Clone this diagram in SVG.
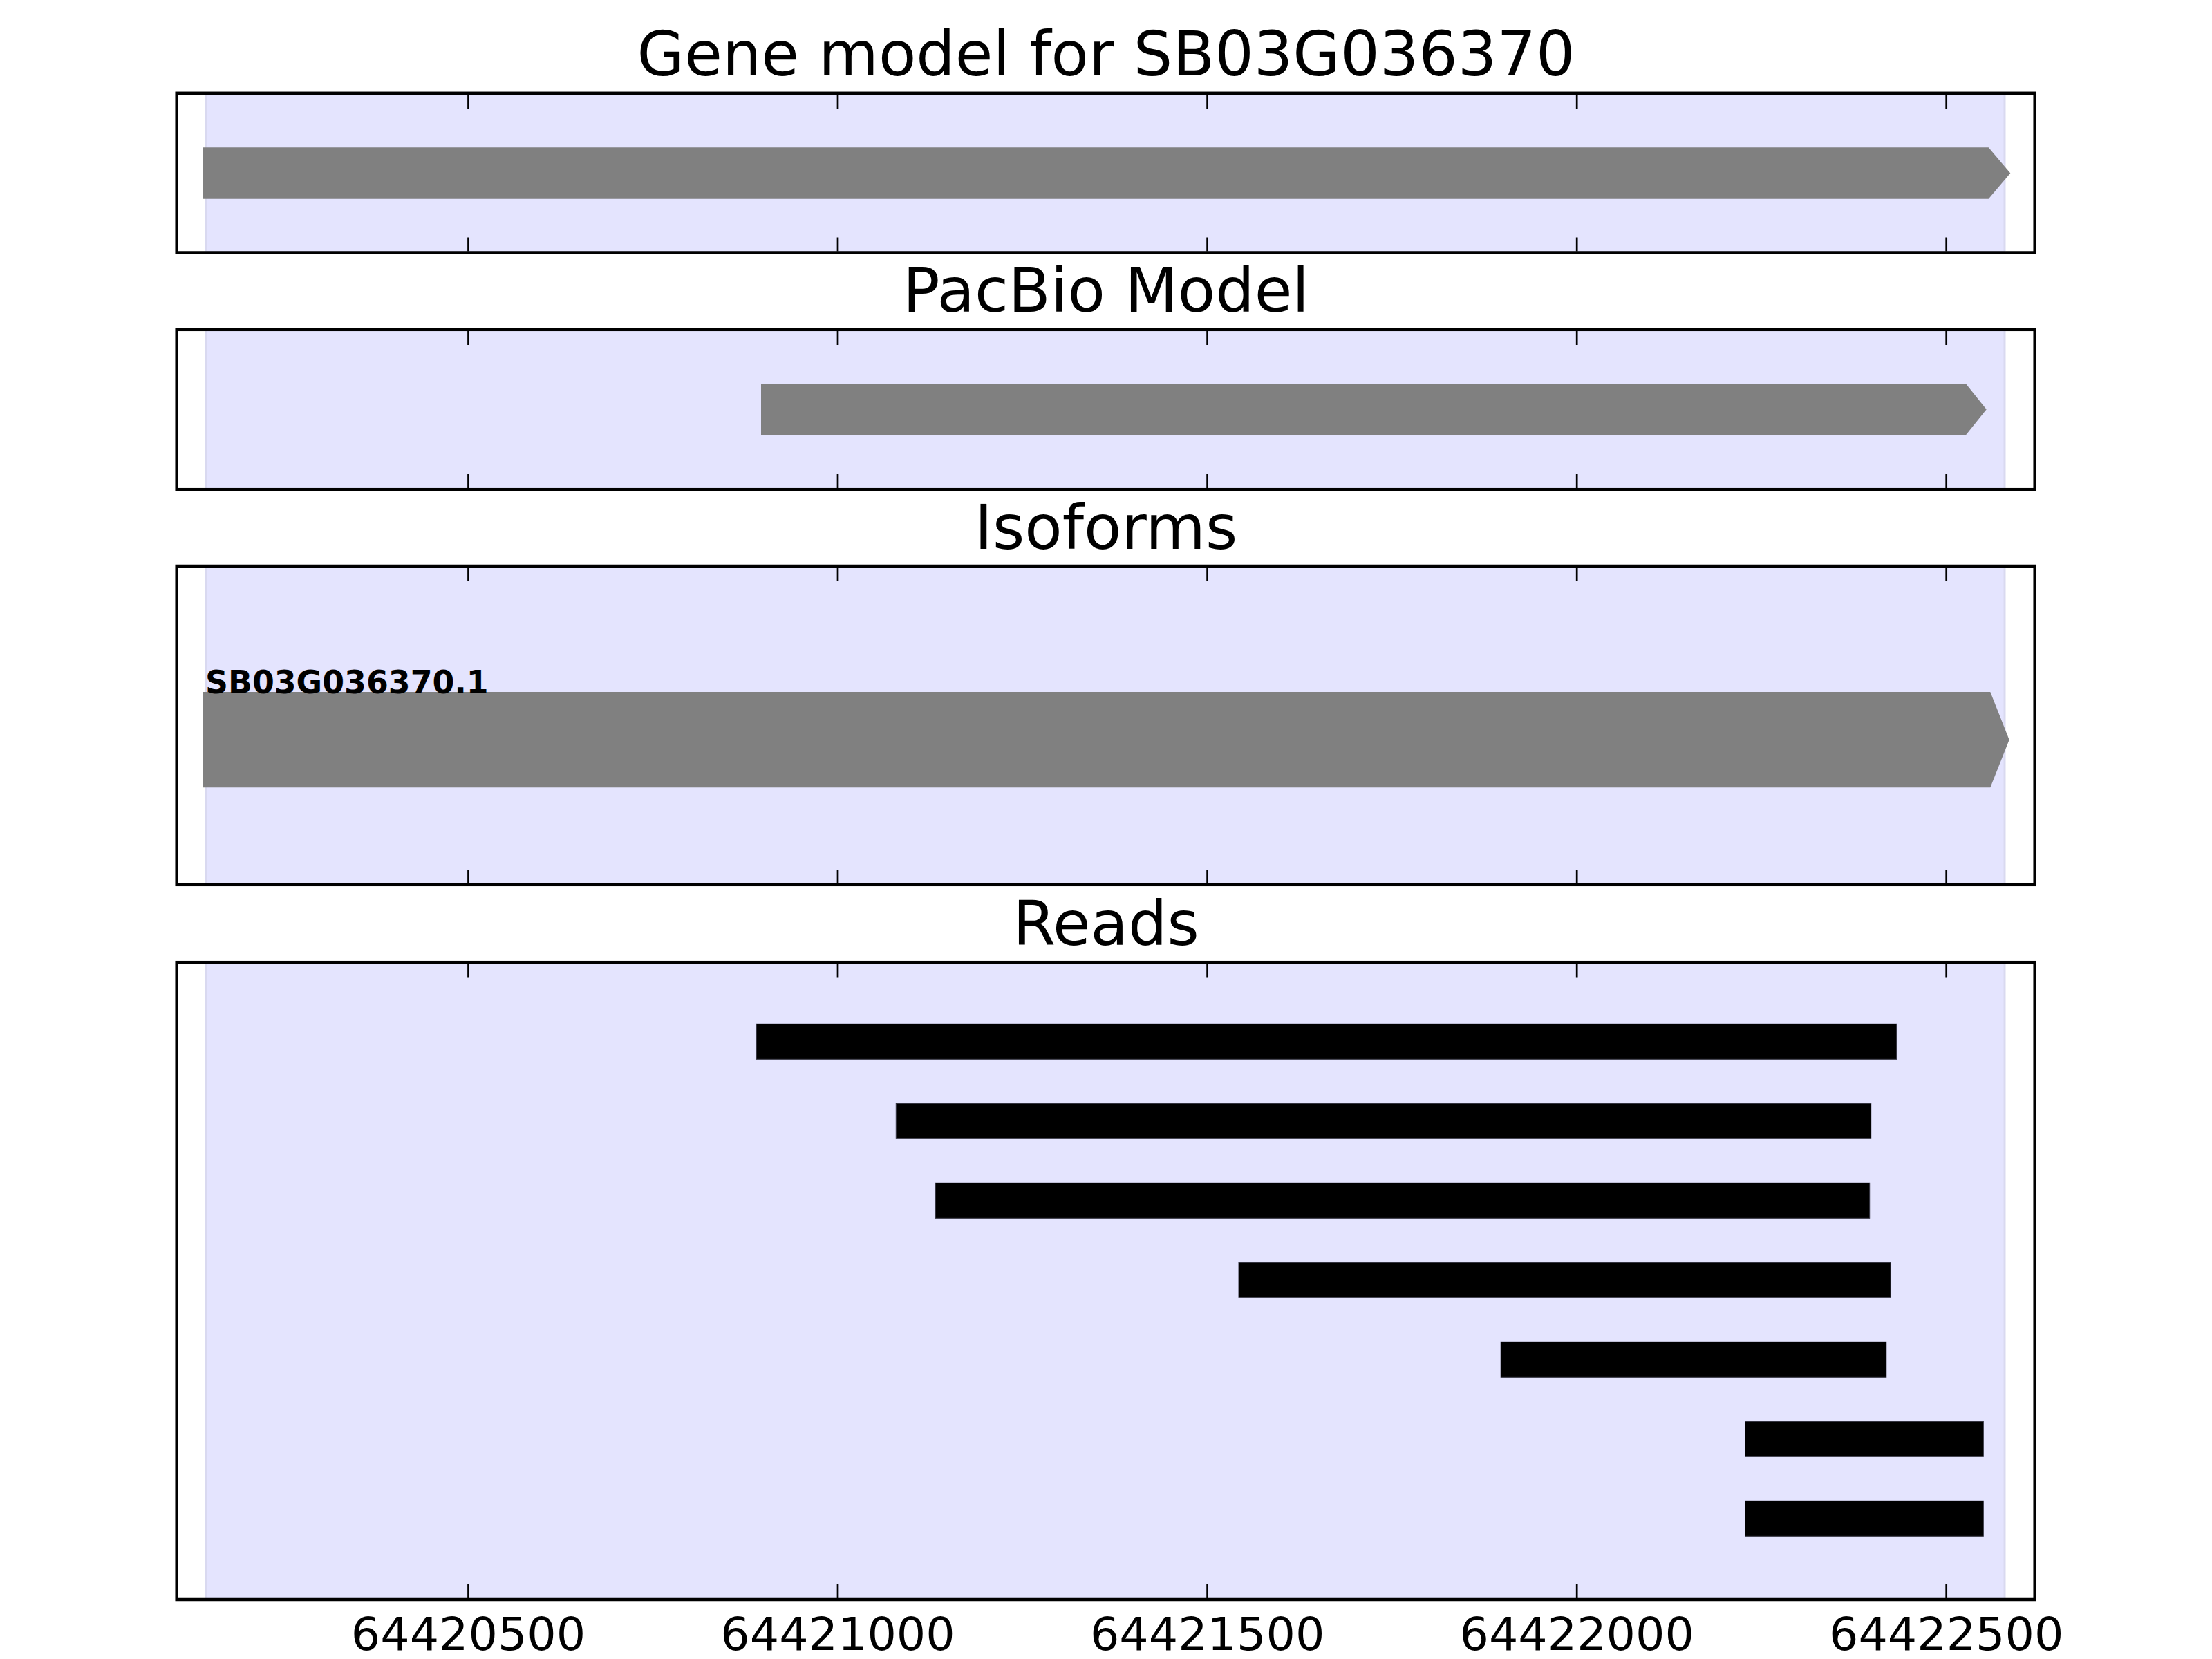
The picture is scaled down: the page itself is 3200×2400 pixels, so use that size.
<svg xmlns="http://www.w3.org/2000/svg" width="3200" height="2400" viewBox="0 0 3200 2400">
<style>
.title{font-family:"DejaVu Sans","Liberation Sans",sans-serif;font-size:88.9px;text-anchor:middle;fill:#000}
.tick{font-family:"DejaVu Sans","Liberation Sans",sans-serif;font-size:66.7px;text-anchor:middle;fill:#000}
.lab{font-family:"DejaVu Sans","Liberation Sans",sans-serif;font-size:45.8px;font-weight:bold;fill:#000}
.span{fill:#e4e4fe}
.spanedge{stroke:#d9d9f0;stroke-width:3}
.frame{fill:none;stroke:#000;stroke-width:4.5}
.tk{stroke:#000;stroke-width:2.7}
.gene{fill:#808080}
.read{fill:#000;stroke:#33333f;stroke-width:1}
</style>
<rect width="3200" height="2400" fill="#fff"/>

<g id="panel-gene-model">
<text class="title" x="1600" y="109">Gene model for SB03G036370</text>
<rect class="span" x="297" y="135" width="2604" height="231"/>
<line class="spanedge" x1="298" y1="137" x2="298" y2="363"/>
<line class="spanedge" x1="2900" y1="137" x2="2900" y2="363"/>
<polygon class="gene" points="293.3,213.3 2876.7,213.3 2908.3,250.5 2876.7,287.7 293.3,287.7"/>
<g class="tk">
<line x1="677.5" y1="137" x2="677.5" y2="157"/><line x1="1212" y1="137" x2="1212" y2="157"/><line x1="1746.6" y1="137" x2="1746.6" y2="157"/><line x1="2281.2" y1="137" x2="2281.2" y2="157"/><line x1="2815.7" y1="137" x2="2815.7" y2="157"/>
<line x1="677.5" y1="343.5" x2="677.5" y2="363.5"/><line x1="1212" y1="343.5" x2="1212" y2="363.5"/><line x1="1746.6" y1="343.5" x2="1746.6" y2="363.5"/><line x1="2281.2" y1="343.5" x2="2281.2" y2="363.5"/><line x1="2815.7" y1="343.5" x2="2815.7" y2="363.5"/>
</g>
<rect class="frame" x="255.7" y="134.8" width="2688" height="230.7"/>
</g>

<g id="panel-pacbio">
<text class="title" x="1600" y="451">PacBio Model</text>
<rect class="span" x="297" y="477" width="2604" height="231"/>
<line class="spanedge" x1="298" y1="479" x2="298" y2="706"/>
<line class="spanedge" x1="2900" y1="479" x2="2900" y2="706"/>
<polygon class="gene" points="1101,555.3 2844,555.3 2873.7,592.3 2844,629.3 1101,629.3"/>
<g class="tk">
<line x1="677.5" y1="479" x2="677.5" y2="499"/><line x1="1212" y1="479" x2="1212" y2="499"/><line x1="1746.6" y1="479" x2="1746.6" y2="499"/><line x1="2281.2" y1="479" x2="2281.2" y2="499"/><line x1="2815.7" y1="479" x2="2815.7" y2="499"/>
<line x1="677.5" y1="686" x2="677.5" y2="706"/><line x1="1212" y1="686" x2="1212" y2="706"/><line x1="1746.6" y1="686" x2="1746.6" y2="706"/><line x1="2281.2" y1="686" x2="2281.2" y2="706"/><line x1="2815.7" y1="686" x2="2815.7" y2="706"/>
</g>
<rect class="frame" x="255.7" y="476.8" width="2688" height="231.4"/>
</g>

<g id="panel-isoforms">
<text class="title" x="1600" y="793.5">Isoforms</text>
<rect class="span" x="297" y="819" width="2604" height="461"/>
<line class="spanedge" x1="298" y1="821" x2="298" y2="1278"/>
<line class="spanedge" x1="2900" y1="821" x2="2900" y2="1278"/>
<polygon class="gene" points="293.1,1001 2879.3,1001 2906.7,1070.2 2879.3,1139.3 293.1,1139.3"/>
<text class="lab" x="297" y="1003">SB03G036370.1</text>
<g class="tk">
<line x1="677.5" y1="821" x2="677.5" y2="841"/><line x1="1212" y1="821" x2="1212" y2="841"/><line x1="1746.6" y1="821" x2="1746.6" y2="841"/><line x1="2281.2" y1="821" x2="2281.2" y2="841"/><line x1="2815.7" y1="821" x2="2815.7" y2="841"/>
<line x1="677.5" y1="1258" x2="677.5" y2="1278"/><line x1="1212" y1="1258" x2="1212" y2="1278"/><line x1="1746.6" y1="1258" x2="1746.6" y2="1278"/><line x1="2281.2" y1="1258" x2="2281.2" y2="1278"/><line x1="2815.7" y1="1258" x2="2815.7" y2="1278"/>
</g>
<rect class="frame" x="255.7" y="819" width="2688" height="460.8"/>
</g>

<g id="panel-reads">
<text class="title" x="1600" y="1366.7">Reads</text>
<rect class="span" x="297" y="1392" width="2604" height="922"/>
<line class="spanedge" x1="298" y1="1394" x2="298" y2="2312"/>
<line class="spanedge" x1="2900" y1="1394" x2="2900" y2="2312"/>
<g id="reads">
<rect class="read" x="1094.3" y="1481.3" width="1649.4" height="51"/>
<rect class="read" x="1296.3" y="1596.3" width="1410.4" height="51"/>
<rect class="read" x="1353.3" y="1711.3" width="1351.4" height="51"/>
<rect class="read" x="1792" y="1826.3" width="943" height="51"/>
<rect class="read" x="2171.2" y="1941.3" width="557.6" height="51"/>
<rect class="read" x="2524.5" y="2056.3" width="344.8" height="51"/>
<rect class="read" x="2524.5" y="2171.3" width="344.8" height="51"/>
</g>
<g class="tk">
<line x1="677.5" y1="1394.5" x2="677.5" y2="1414.5"/><line x1="1212" y1="1394.5" x2="1212" y2="1414.5"/><line x1="1746.6" y1="1394.5" x2="1746.6" y2="1414.5"/><line x1="2281.2" y1="1394.5" x2="2281.2" y2="1414.5"/><line x1="2815.7" y1="1394.5" x2="2815.7" y2="1414.5"/>
<line x1="677.5" y1="2292" x2="677.5" y2="2312"/><line x1="1212" y1="2292" x2="1212" y2="2312"/><line x1="1746.6" y1="2292" x2="1746.6" y2="2312"/><line x1="2281.2" y1="2292" x2="2281.2" y2="2312"/><line x1="2815.7" y1="2292" x2="2815.7" y2="2312"/>
</g>
<rect class="frame" x="255.7" y="1392.2" width="2688" height="921.8"/>
<g id="x-axis-labels">
<text class="tick" x="677.5" y="2386.7">64420500</text>
<text class="tick" x="1212" y="2386.7">64421000</text>
<text class="tick" x="1746.6" y="2386.7">64421500</text>
<text class="tick" x="2281.2" y="2386.7">64422000</text>
<text class="tick" x="2815.7" y="2386.7">64422500</text>
</g>
</g>
</svg>
